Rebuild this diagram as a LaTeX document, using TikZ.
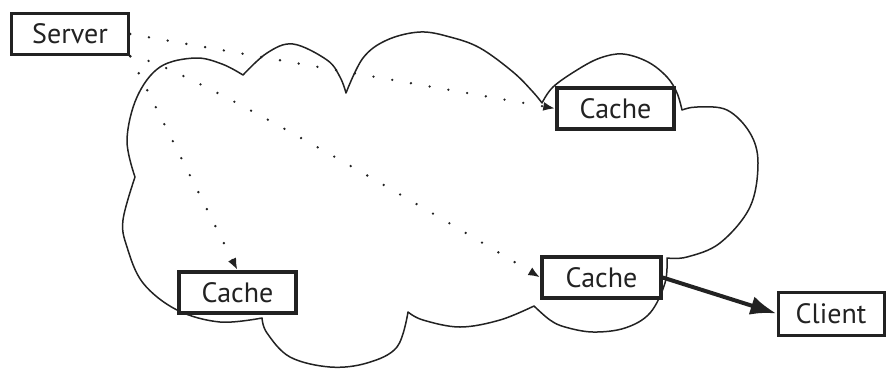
\documentclass[tikz,border=0pt]{standalone}
\usepackage{fontspec}
\setmainfont{PT Sans}
\usetikzlibrary{arrows.meta}
\definecolor{ink}{HTML}{222222}
\begin{document}
\begin{tikzpicture}[x=1pt,y=-1pt,
  box/.style={draw=ink, line width=3.5pt, fill=white, inner sep=0pt,
    minimum height=41pt, minimum width=117pt,
    font=\fontsize{28}{30}\selectfont, text=ink},
  dots/.style={draw=ink, line width=2.6pt, line cap=round,
    dash pattern=on 0pt off 19pt, -{Latex[length=12pt,width=9pt]}},
  cloudline/.style={draw=ink, line width=1.5pt, line join=round},
  link/.style={draw=ink, line width=4pt, -{Latex[length=26pt,width=19pt]}}]
\useasboundingbox (0,0) rectangle (888,368);
% cloud
\draw[cloudline]
  plot[smooth, tension=0.6] coordinates {(135,177) (127,140) (137,97) (160,67) (195,58) (222,64) (243,75)}
  -- plot[smooth, tension=0.6] coordinates {(243,75) (267,53) (293,44) (327,60) (340,77) (346,93)}
  -- plot[smooth, tension=0.6] coordinates {(346,93) (363,58) (387,40) (420,32) (450,37) (480,48) (513,72) (533,92) (542,103)}
  -- plot[smooth, tension=0.6] coordinates {(542,103) (553,87) (577,70) (600,58) (623,54) (648,62) (667,77) (677,93) (682,110)}
  -- plot[smooth, tension=0.6] coordinates {(682,110) (697,107) (727,110) (750,133) (758,163) (750,207) (720,243) (687,257) (667,258)}
  -- plot[smooth, tension=0.6] coordinates {(667,258) (665,283) (650,313) (625,328) (593,332) (565,327) (550,320) (534,306)}
  -- plot[smooth, tension=0.6] coordinates {(534,306) (500,320) (460,327) (423,320) (408,312)}
  -- plot[smooth, tension=0.6] coordinates {(408,312) (397,347) (367,363) (330,367) (290,357) (267,333) (262,318)}
  -- plot[smooth, tension=0.6] coordinates {(262,318) (220,322) (177,310) (143,283) (127,247) (123,220) (135,177)}
  -- cycle;
% nodes
\node[box] (server) at (70,34) {Server};
\node[box] (c1) at (615.5,108.5) {Cache};
\node[box] (c2) at (237.5,292.5) {Cache};
\node[box, minimum width=119pt] (c3) at (601.5,277.5) {Cache};
\node[box, line width=3pt, minimum width=106pt, minimum height=43pt] (client) at (831,313.5) {Client};
% connectors
\draw[dots] (server.east) -- (c1.west);
\draw[dots] (server.south east) .. controls (165,56) and (400,193) .. (c3.west);
\draw[dots] (server.south east) -- (c2.north);
\draw[link] (c3.east) -- (client.west);
\end{tikzpicture}
\end{document}
